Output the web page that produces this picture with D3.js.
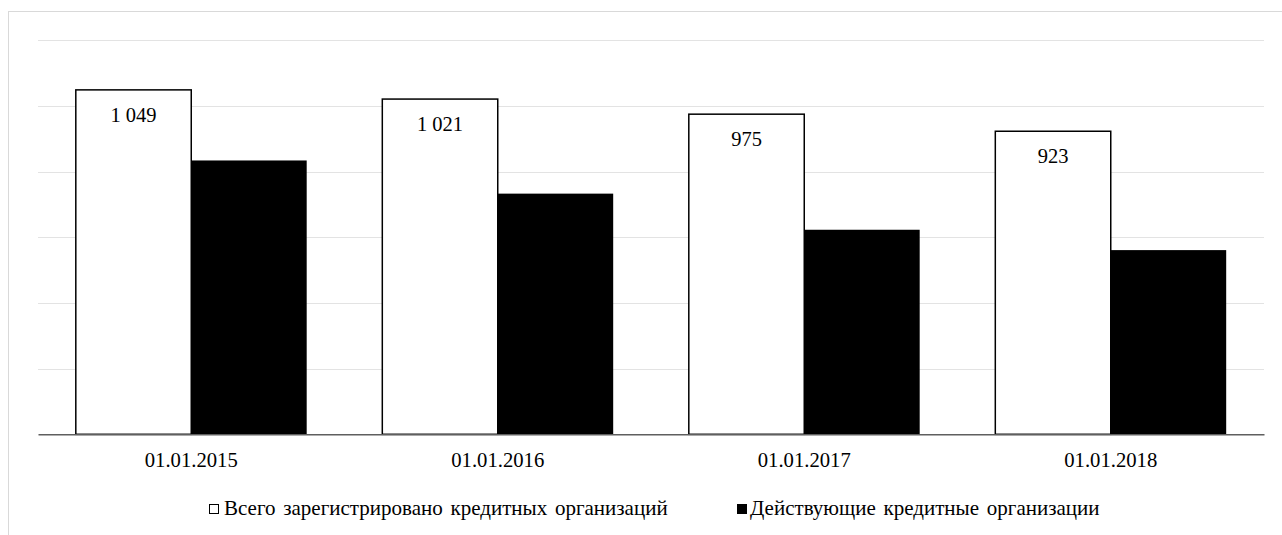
<!DOCTYPE html>
<html><head><meta charset="utf-8">
<script src="https://cdn.jsdelivr.net/npm/d3@7/dist/d3.min.js"></script>
<style>body{margin:0;background:#fff}svg{display:block}</style>
</head><body>
<script>
const categories = ["01.01.2015","01.01.2016","01.01.2017","01.01.2018"];
const seriesNames = ["Всего зарегистрировано кредитных организаций","Действующие кредитные организации"];
const totalRegistered = [1049,1021,975,923];
const active = [834,733,623,561];
const yTicks = [0,200,400,600,800,1000,1200];

(function(){
const FONT="'Liberation Serif', 'Times New Roman', Times, 'DejaVu Serif', serif";
const W=1282,H=535;
const svg=d3.select("body").append("svg").attr("width",W).attr("height",H).style("font-family",FONT);
svg.append("rect").attr("x",8.5).attr("y",11.5).attr("width",W).attr("height",H).attr("fill","#fff").attr("stroke","#d9d9d9").attr("stroke-width",1);

const mLeft=38,mRight=1264,mTop=40.3,mBottom=434.3;
const x=d3.scaleBand().domain(categories).range([mLeft,mRight]).paddingInner(0).paddingOuter(0);
const inner=d3.scaleBand().domain([0,1]).range([0,x.bandwidth()]).paddingOuter(0.3275).paddingInner(0);
const y=d3.scaleLinear().domain([0,1200]).range([mBottom,mTop]);

svg.append("g").selectAll("line").data(yTicks.slice(1)).join("line")
  .attr("x1",mLeft).attr("x2",mRight).attr("y1",d=>Math.round(y(d))+0.5).attr("y2",d=>Math.round(y(d))+0.5)
  .attr("stroke","#e3e3e3").attr("stroke-width",1);

const data=categories.map((c,i)=>({c,vals:[totalRegistered[i],active[i]]}));
const g=svg.append("g");
data.forEach(d=>{
  d.vals.forEach((v,k)=>{
    g.append("rect").attr("x",x(d.c)+inner(k)).attr("y",y(v)).attr("width",inner.bandwidth()).attr("height",y(0)-y(v))
      .attr("fill",k===0?"#fff":"#000").attr("stroke","#000").attr("stroke-width",k===0?1.5:0);
  });
  g.append("text").attr("x",x(d.c)+inner(0)+inner.bandwidth()/2).attr("y",y(d.vals[0])+32)
    .attr("text-anchor","middle").attr("fill","#000").style("font-family",FONT).style("font-size","20.5px")
    .text(d3.format(",")(d.vals[0]).replace(/,/g," "));
});

const xAxis=svg.append("g").attr("transform",`translate(0,${mBottom})`).call(d3.axisBottom(x).tickSize(0).tickPadding(0));
xAxis.attr("font-family",null).attr("font-size",null);
xAxis.select(".domain").attr("stroke","#5f5f5f").attr("stroke-width",1.5);
xAxis.selectAll("text").attr("y",32.5).attr("dy",0).style("font-size","20.7px").style("font-family",FONT).attr("fill","#000");

const leg=svg.append("g");
const sx=[209,737], tx=[224,750];
seriesNames.forEach((n,k)=>{
  leg.append("rect").attr("x",sx[k]+0.5).attr("y",504.5).attr("width",9).attr("height",9)
    .attr("fill",k===0?"#fff":"#000").attr("stroke","#000").attr("stroke-width",1);
  leg.append("text").attr("x",tx[k]).attr("y",514.5).attr("fill","#000").style("font-family",FONT)
    .style("font-size","21px").style("word-spacing","2.5px").text(n);
});
})();
</script>
</body></html>
